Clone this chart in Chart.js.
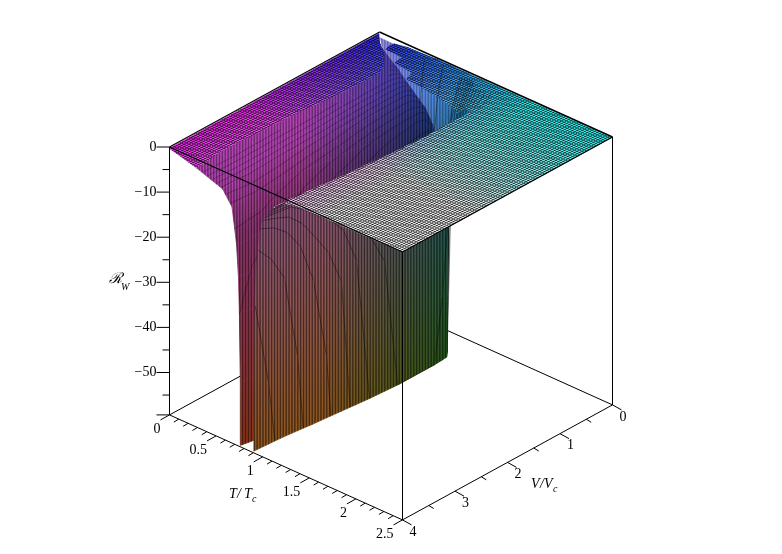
<!DOCTYPE html>
<html>
<head>
<meta charset="utf-8">
<title>R_W surface</title>
<script src="https://cdn.jsdelivr.net/npm/chart.js@4"></script>
<style>
	html, body { margin: 0; padding: 0; background: #fff; }
	canvas { display: block; }
</style>
</head>
<body>
<canvas id="myChart" width="782" height="554"></canvas>
<script>
// volume rows
var vRows = [0.015, 0.03, 0.06, 0.1, 0.15, 0.2, 0.27, 0.35, 0.45, 0.55, 0.65, 0.8, 1, 1.25, 1.5, 1.75, 2, 2.25, 2.5, 2.75, 3, 3.25, 3.5, 3.75, 4];

// R_W levels, and the T/Tc where each row reaches them on the cold side of the chasm
var leftLevels = [-0.3, -1, -2, -4, -7, -10, -15, -22, -30, -45, -59];
var leftT = [
	[0, 0.002, 0.004, 0.006, 0.008, 0.009, 0.01, 0.011, 0.012, 0.013, 0.014],
	[0, 0.005, 0.01, 0.02, 0.03, 0.035, 0.04, 0.043, 0.045, 0.048, 0.05],
	[0, 0.02, 0.04, 0.07, 0.09, 0.1, 0.11, 0.12, 0.13, 0.135, 0.14],
	[0, 0.03, 0.07, 0.13, 0.17, 0.19, 0.21, 0.23, 0.24, 0.25, 0.26],
	[0, 0.06, 0.13, 0.24, 0.31, 0.34, 0.37, 0.39, 0.4, 0.41, 0.42],
	[0, 0.08, 0.17, 0.31, 0.4, 0.45, 0.49, 0.52, 0.54, 0.55, 0.56],
	[0, 0.1, 0.2, 0.38, 0.5, 0.56, 0.61, 0.65, 0.68, 0.71, 0.72],
	[0, 0.12, 0.25, 0.47, 0.62, 0.7, 0.75, 0.79, 0.82, 0.85, 0.86],
	[0, 0.14, 0.3, 0.56, 0.74, 0.82, 0.87, 0.91, 0.94, 0.96, 0.97],
	[0, 0.15, 0.33, 0.62, 0.8, 0.88, 0.93, 0.96, 0.99, 1.01, 1.02],
	[0, 0.16, 0.35, 0.66, 0.84, 0.92, 0.96, 0.985, 1.005, 1.02, 1.03],
	[0, 0.16, 0.35, 0.67, 0.85, 0.92, 0.97, 0.995, 1.01, 1.025, 1.035],
	[0, 0.16, 0.35, 0.67, 0.84, 0.91, 0.96, 0.99, 1.005, 1.02, 1.03],
	[0, 0.15, 0.34, 0.66, 0.83, 0.9, 0.95, 0.98, 0.995, 1.01, 1.02],
	[0, 0.15, 0.33, 0.65, 0.81, 0.88, 0.94, 0.97, 0.985, 1, 1.01],
	[0, 0.145, 0.32, 0.63, 0.79, 0.85, 0.91, 0.94, 0.96, 0.98, 0.99],
	[0, 0.14, 0.3, 0.6, 0.76, 0.82, 0.88, 0.91, 0.93, 0.95, 0.96],
	[0, 0.135, 0.29, 0.59, 0.74, 0.8, 0.86, 0.89, 0.91, 0.93, 0.94],
	[0, 0.13, 0.28, 0.58, 0.72, 0.78, 0.84, 0.87, 0.89, 0.91, 0.92],
	[0, 0.13, 0.275, 0.565, 0.7, 0.755, 0.81, 0.84, 0.86, 0.88, 0.89],
	[0, 0.13, 0.27, 0.55, 0.68, 0.73, 0.78, 0.81, 0.83, 0.85, 0.86],
	[0, 0.125, 0.265, 0.545, 0.665, 0.71, 0.76, 0.79, 0.81, 0.83, 0.84],
	[0, 0.12, 0.26, 0.54, 0.65, 0.69, 0.74, 0.77, 0.79, 0.81, 0.82],
	[0, 0.125, 0.28, 0.555, 0.66, 0.69, 0.73, 0.755, 0.77, 0.785, 0.795],
	[0, 0.13, 0.3, 0.57, 0.67, 0.69, 0.72, 0.74, 0.75, 0.76, 0.765]
];

// same thing on the hot side, from the bottom of the chasm up to the flat part
var rightLevels = [-59, -45, -30, -20, -14, -10, -7, -5, -3, -2, -1, -0.5, -0.2, 0];
var rightT = [
	[0.016, 0.017, 0.019, 0.022, 0.027, 0.033, 0.042, 0.055, 0.08, 0.11, 0.17, 0.3, 0.6, 2.5],
	[0.055, 0.058, 0.065, 0.075, 0.09, 0.11, 0.14, 0.18, 0.26, 0.36, 0.55, 0.8, 1.3, 2.5],
	[0.15, 0.155, 0.17, 0.19, 0.22, 0.26, 0.32, 0.39, 0.55, 0.72, 1, 1.35, 1.9, 2.5],
	[0.27, 0.28, 0.3, 0.34, 0.39, 0.46, 0.55, 0.66, 0.86, 1.05, 1.35, 1.7, 2.15, 2.5],
	[0.43, 0.44, 0.47, 0.51, 0.57, 0.65, 0.75, 0.87, 1.07, 1.28, 1.55, 1.8, 2.15, 2.5],
	[0.57, 0.58, 0.61, 0.65, 0.71, 0.78, 0.88, 0.99, 1.17, 1.35, 1.6, 1.8, 2.1, 2.5],
	[0.73, 0.74, 0.76, 0.8, 0.85, 0.91, 0.99, 1.08, 1.23, 1.37, 1.57, 1.75, 2.05, 2.5],
	[0.87, 0.875, 0.89, 0.92, 0.96, 1.01, 1.07, 1.15, 1.27, 1.37, 1.52, 1.68, 1.95, 2.5],
	[0.98, 0.985, 0.995, 1.02, 1.05, 1.08, 1.13, 1.19, 1.28, 1.36, 1.46, 1.58, 1.85, 2.5],
	[1.03, 1.035, 1.04, 1.06, 1.08, 1.11, 1.15, 1.2, 1.27, 1.33, 1.41, 1.5, 1.75, 2.5],
	[1.035, 1.04, 1.045, 1.06, 1.08, 1.105, 1.14, 1.19, 1.26, 1.31, 1.39, 1.47, 1.68, 2.5],
	[1.04, 1.045, 1.05, 1.065, 1.085, 1.105, 1.135, 1.185, 1.255, 1.305, 1.375, 1.455, 1.66, 2.5],
	[1.04, 1.045, 1.05, 1.065, 1.085, 1.105, 1.135, 1.18, 1.25, 1.3, 1.37, 1.45, 1.65, 2.5],
	[1.04, 1.045, 1.05, 1.065, 1.085, 1.105, 1.135, 1.18, 1.25, 1.3, 1.37, 1.45, 1.65, 2.5],
	[1.04, 1.045, 1.05, 1.065, 1.085, 1.105, 1.135, 1.18, 1.25, 1.3, 1.37, 1.45, 1.65, 2.5],
	[1.03, 1.035, 1.04, 1.055, 1.075, 1.095, 1.125, 1.17, 1.24, 1.29, 1.36, 1.44, 1.65, 2.5],
	[1.02, 1.025, 1.03, 1.045, 1.065, 1.085, 1.115, 1.165, 1.235, 1.285, 1.355, 1.43, 1.65, 2.5],
	[1.005, 1.01, 1.015, 1.03, 1.05, 1.07, 1.1, 1.15, 1.22, 1.27, 1.34, 1.415, 1.635, 2.5],
	[0.99, 0.995, 1, 1.015, 1.035, 1.055, 1.085, 1.135, 1.205, 1.255, 1.325, 1.4, 1.62, 2.5],
	[0.975, 0.98, 0.988, 1.003, 1.022, 1.042, 1.072, 1.122, 1.192, 1.242, 1.312, 1.39, 1.61, 2.5],
	[0.96, 0.965, 0.975, 0.99, 1.01, 1.03, 1.06, 1.11, 1.18, 1.23, 1.3, 1.38, 1.6, 2.5],
	[0.942, 0.948, 0.958, 0.972, 0.992, 1.012, 1.04, 1.09, 1.16, 1.21, 1.28, 1.36, 1.585, 2.5],
	[0.925, 0.93, 0.94, 0.955, 0.975, 0.995, 1.02, 1.07, 1.14, 1.19, 1.26, 1.34, 1.57, 2.5],
	[0.915, 0.92, 0.928, 0.942, 0.962, 0.982, 1.01, 1.06, 1.13, 1.18, 1.25, 1.33, 1.56, 2.5],
	[0.905, 0.91, 0.915, 0.93, 0.95, 0.97, 1, 1.05, 1.12, 1.17, 1.24, 1.32, 1.55, 2.5]
];

// far side of the chasm near the back corner, as [T, V, R]
var backSheet = [[0.02, 0.02, -1], [0.3, 0.03, -1], [0.8, 0.06, -2], [0.6, 0.2, -30], [0.25, 0.14, -12]];

// T/Tc of the thin dark curves drawn on the surface
var leftCurves = [0.3, 0.35, 0.4, 0.45, 0.5, 0.55, 0.6, 0.65, 0.7, 0.75, 0.8, 0.85, 0.9, 0.95, 1];
var rightCurves = [0.5, 0.7, 0.9, 0.92, 0.95, 0.98, 1, 1.02, 1.04, 1.07, 1.1, 1.14, 1.19, 1.25];

var tMajor = [0, 0.5, 1, 1.5, 2, 2.5];
var tLabels = ["0", "0.5", "1", "1.5", "2", "2.5"];
var tMinor = [0.1, 0.2, 0.3, 0.4, 0.6, 0.7, 0.8, 0.9, 1.1, 1.2, 1.3, 1.4, 1.6, 1.7, 1.8, 1.9, 2.1, 2.2, 2.3, 2.4];
var vMajor = [0, 1, 2, 3, 4];
var vLabels = ["0", "1", "2", "3", "4"];
var vMinor = [0.5, 1.5, 2.5, 3.5];
var zMajor = [0, -10, -20, -30, -40, -50];
var zLabels = ["0", "\u221210", "\u221220", "\u221230", "\u221240", "\u221250"];
var zMinor = [-5, -15, -25, -35, -45, -55];
var tMax = 2.5, vMax = 4, zMin = -59.4;

// fixed view of the box, in canvas units
var origin = [379.5, 32], tDir = [233, 105], vDir = [-210, 115], zUnit = 4.51;

function project(t, v, z) {
	return {
		x: origin[0] + tDir[0] * t / tMax + vDir[0] * v / vMax,
		y: origin[1] + tDir[1] * t / tMax + vDir[1] * v / vMax - zUnit * z
	};
}

function clamp01(a) {
	return a < 0 ? 0 : (a > 1 ? 1 : a);
}

var det = tDir[0] * vDir[1] - tDir[1] * vDir[0];
var meshCount = 90;

function makeTexture(colorAt) {
	var cv = document.createElement("canvas");
	cv.width = 782;
	cv.height = 554;
	var c = cv.getContext("2d");
	var img = c.createImageData(782, 554);
	for (var y = 0; y < 554; y++) {
		for (var x = 0; x < 782; x++) {
			var col = colorAt(x, y);
			var i = (y * 782 + x) * 4;
			img.data[i] = col[0] * 255;
			img.data[i + 1] = col[1] * 255;
			img.data[i + 2] = col[2] * 255;
			img.data[i + 3] = 255;
		}
	}
	c.putImageData(img, 0, 0);
	return document.getElementById("myChart").getContext("2d").createPattern(cv, "no-repeat");
}

function meshLine(f) {
	var d = Math.abs(f - Math.floor(f) - 0.5) * 2;
	return clamp01((d - 0.35) / 0.65);
}

// position to colour channel, muted the way the plot renders it
function chan(p) {
	return 0.92 * (0.15 + 0.85 * clamp01(p * 1.5));
}

// top side of the flat parts: colour follows position, with the fine mesh on it
var flatFill = makeTexture(function(x, y) {
	var dx = x + 0.5 - origin[0], dy = y + 0.5 - origin[1];
	var a = (dx * vDir[1] - dy * vDir[0]) / det;
	var b = (tDir[0] * dy - tDir[1] * dx) / det;
	var m = (1 - 0.68 * meshLine(a * meshCount)) * (1 - 0.68 * meshLine(b * meshCount));
	return [chan(b) * m, chan(a) * m, 0.92 * m];
});

// the steep parts: stripes, colour from depth. Brightness goes from high near the top to low deep down
function wallTexture(tGuess, green, low, high, fade, swing) {
	return makeTexture(function(x, y) {
		var a = tGuess / tMax;
		var b = clamp01((x + 0.5 - origin[0] - tDir[0] * a) / vDir[0]);
		var z = (y + 0.5 - origin[1] - tDir[1] * a - vDir[1] * b) / zUnit;
		var m = low + (high - low) * clamp01(1 - z / fade) + swing * Math.cos(x * 2 * Math.PI / 2.9);
		return [chan(b) * m, green * m, 0.92 * clamp01(1 - z / 75) * m];
	});
}

var undersideFill = wallTexture(0.9, 0.55, 0.46, 0.46, 1, 0.16);
var coldWallFill = wallTexture(0.65, 0.34, 0.46, 0.62, 15, 0.16);
var blueWallFill = wallTexture(0.9, 0.55, 0.46, 0.85, 30, 0.16);

function cell(a, b, c, d, fill) {
	return {
		data: [a, b, c, d, a],
		showLine: true,
		fill: "shape",
		backgroundColor: fill,
		borderColor: fill,
		borderWidth: 0.8,
		pointRadius: 0,
		tension: 0
	};
}

function stroke(points, color, width) {
	return {
		data: points,
		showLine: true,
		fill: false,
		borderColor: color,
		borderWidth: width,
		pointRadius: 0,
		tension: 0
	};
}

function heightAt(ts, levels, t) {
	if (t < ts[0] || t > ts[ts.length - 1]) {
		return null;
	}
	for (var k = 1; k < ts.length; k++) {
		if (t <= ts[k]) {
			return levels[k - 1] + (levels[k] - levels[k - 1]) * (t - ts[k - 1]) / (ts[k] - ts[k - 1] || 1);
		}
	}
	return null;
}

function fillFor(isLeft, i, low, high, span) {
	if (isLeft) {
		return low <= -4 ? coldWallFill : flatFill;
	}
	if ((high - low) * zUnit < span * 102) {
		return flatFill;
	}
	return vRows[i] < 0.65 ? blueWallFill : undersideFill;
}

// one strip between two rows: cells in T order so nearer parts paint later, curves last
function stripItems(i, table, levels, curves, hideAbove, isLeft) {
	var items = [];
	var bottom = isLeft ? levels.length - 1 : 0;
	for (var k = 0; k + 1 < levels.length; k++) {
		var t0 = table[i][k], t1 = table[i][k + 1], t2 = table[i + 1][k + 1], t3 = table[i + 1][k];
		items.push({
			key: (t0 + t1 + t2 + t3) / 4,
			ds: cell(
				project(t0, vRows[i], levels[k]),
				project(t1, vRows[i], levels[k + 1]),
				project(t2, vRows[i + 1], levels[k + 1]),
				project(t3, vRows[i + 1], levels[k]),
				fillFor(isLeft, i, Math.min(levels[k], levels[k + 1]), Math.max(levels[k], levels[k + 1]), (Math.abs(t1 - t0) + Math.abs(t2 - t3)) / 2)
			)
		});
	}
	items.sort(function(p, q) { return p.key - q.key; });
	var out = items.map(function(p) { return p.ds; });
	var ink = isLeft ? "rgba(0,0,0,0.35)" : "rgba(0,0,0,0.5)";
	curves.forEach(function(c) {
		var z0 = heightAt(table[i], levels, c);
		var z1 = heightAt(table[i + 1], levels, c);
		if (z0 === null && z1 === null) {
			return;
		}
		var p0, p1;
		if (z0 === null || z1 === null) {
			// the curve runs into the bottom of the chasm inside this strip
			var e0 = table[i][bottom], e1 = table[i + 1][bottom];
			var f = (c - e0) / (e1 - e0 || 1);
			if (f < 0 || f > 1) {
				return;
			}
			var vEnd = vRows[i] + (vRows[i + 1] - vRows[i]) * f;
			p0 = z0 === null ? project(c, vEnd, levels[bottom]) : project(c, vRows[i], z0);
			p1 = z1 === null ? project(c, vEnd, levels[bottom]) : project(c, vRows[i + 1], z1);
		} else {
			if (z0 > hideAbove && z1 > hideAbove) {
				return;
			}
			p0 = project(c, vRows[i], z0);
			p1 = project(c, vRows[i + 1], z1);
		}
		out.push(stroke([p0, p1], ink, 0.8));
	});
	return out;
}

function segment(a, b, width) {
	return stroke([a, b], "#000", width || 1);
}

var painted = [];

// floor lines behind the surface
painted.push(segment(project(0, vMax, zMin), project(0, 0, zMin)));
painted.push(segment(project(0, 0, zMin), project(tMax, 0, zMin)));

var backPoints = backSheet.map(function(p) { return project(p[0], p[1], p[2]); });
painted.push(Object.assign(cell(backPoints[0], backPoints[1], backPoints[2], backPoints[3], blueWallFill), {
	data: backPoints.concat([backPoints[0]])
}));

for (var i = 0; i + 1 < vRows.length; i++) {
	painted = painted.concat(stripItems(i, leftT, leftLevels, leftCurves, -2.5, true));
	painted = painted.concat(stripItems(i, rightT, rightLevels, rightCurves, -2, false));
}

// box and axes on top
painted.push(segment(project(0, 0, 0), project(tMax, 0, 0), 1.4));
painted.push(segment(project(0, 0, 0), project(0, vMax, 0), 1.2));
painted.push(segment(project(0, vMax, 0), project(tMax, vMax, 0), 1.2));
painted.push(segment(project(tMax, vMax, 0), project(tMax, 0, 0), 1.2));
painted.push(segment(project(0, vMax, 0), project(0, vMax, zMin)));
painted.push(segment(project(tMax, vMax, 0), project(tMax, vMax, zMin)));
painted.push(segment(project(tMax, 0, 0), project(tMax, 0, zMin)));
painted.push(segment(project(0, vMax, zMin), project(tMax, vMax, zMin)));
painted.push(segment(project(tMax, vMax, zMin), project(tMax, 0, zMin)));

function tickAt(p, dx, dy) {
	return segment(p, { x: p.x + dx, y: p.y + dy }, 1);
}

zMajor.forEach(function(z) { painted.push(tickAt(project(0, vMax, z), -13, 0)); });
zMinor.forEach(function(z) { painted.push(tickAt(project(0, vMax, z), -7, 0)); });
painted.push(tickAt(project(0, vMax, zMin), -13, 0));
tMajor.forEach(function(t) { painted.push(tickAt(project(t, vMax, zMin), -9, 5)); });
tMinor.forEach(function(t) { painted.push(tickAt(project(t, vMax, zMin), -5, 3)); });
vMajor.forEach(function(v) { painted.push(tickAt(project(tMax, v, zMin), 9, 5)); });
vMinor.forEach(function(v) { painted.push(tickAt(project(tMax, v, zMin), 5, 3)); });

var axisText = {
	id: "axisText",
	afterDraw: function(chart) {
		var ctx = chart.ctx, sx = chart.scales.x, sy = chart.scales.y;
		var roman = "14px 'Liberation Serif'", ital = "italic 14px 'Liberation Serif'", sub = "italic 10px 'Liberation Serif'";

		function put(text, x, y, font, align) {
			ctx.font = font;
			ctx.textAlign = align || "left";
			ctx.textBaseline = "middle";
			ctx.fillStyle = "#000";
			ctx.fillText(text, sx.getPixelForValue(x), sy.getPixelForValue(y));
		}

		ctx.save();
		zMajor.forEach(function(z, n) {
			var p = project(0, vMax, z);
			put(zLabels[n], p.x - 13, p.y, roman, "right");
		});
		tMajor.forEach(function(t, n) {
			var p = project(t, vMax, zMin);
			put(tLabels[n], p.x - 9, p.y + 14, roman, "right");
		});
		vMajor.forEach(function(v, n) {
			var p = project(tMax, v, zMin);
			put(vLabels[n], p.x + 7, p.y + 12, roman, "left");
		});
		put("T", 229, 494, ital);
		put("/", 237, 494, ital);
		put("T", 244, 494, ital);
		put("c", 252, 499, sub);
		put("V", 531, 484, ital);
		put("/", 540, 484, ital);
		put("V", 544, 484, ital);
		put("c", 553, 489, sub);
		put("\u211B", 109, 279, "italic 15px 'DejaVu Serif'");
		put("W", 121, 287, sub);
		ctx.restore();
	}
};

new Chart("myChart", {
	type: "scatter",
	data: { datasets: painted.reverse() },
	options: {
		responsive: false,
		animation: false,
		events: [],
		layout: { padding: 0 },
		plugins: { legend: { display: false }, tooltip: { enabled: false } },
		scales: {
			x: { type: "linear", min: 0, max: 782, display: false },
			y: { type: "linear", min: 0, max: 554, reverse: true, display: false }
		}
	},
	plugins: [axisText]
});
</script>
</body>
</html>
